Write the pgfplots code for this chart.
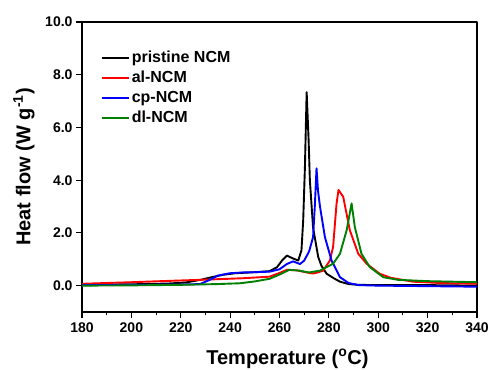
\documentclass[border=0pt]{standalone}
\usepackage{fontspec}
\setmainfont{Liberation Sans}
\usepackage{pgfplots}
\pgfplotsset{compat=1.18}
\definecolor{dgreen}{RGB}{0,128,0}
\begin{document}
\begin{tikzpicture}[line join=round]
\begin{axis}[
  scale only axis, width=395pt, height=290pt,
  xmin=180, xmax=340, ymin=-1, ymax=10,
  xtick={180,200,...,340}, minor x tick num=1,
  ytick={0,2,...,10},
  yticklabel style={/pgf/number format/.cd, fixed, fixed zerofill, precision=1},
  /pgf/number format/assume math mode=true,
  tick align=outside, xtick pos=bottom, ytick pos=left,
  major tick length=6pt, minor tick length=3pt,
  axis line style={line width=1.4pt},
  every tick/.style={line width=1.1pt, black},
  ticklabel style={font=\fontsize{14}{14}\selectfont\bfseries},
  xticklabel style={yshift=-1pt},
  label style={font=\fontsize{20}{20}\selectfont\bfseries},
  xlabel={Temperature (\textsuperscript{o}C)},
  ylabel={Heat flow (W g\textsuperscript{-1})},
  xlabel style={at={(axis description cs:0.52,-0.162)}, anchor=center},
  ylabel style={at={(axis description cs:-0.147,0.5)}, anchor=center},
  legend style={draw=none, fill=none, at={(axis description cs:0.045,0.91)}, anchor=north west,
    font=\fontsize{16}{16}\selectfont\bfseries, row sep=3pt, inner sep=1pt},
  legend cell align=left,
  legend image code/.code={\draw[#1, line width=1.8pt] (0pt,0pt) -- (27pt,0pt);},
]
\addplot[draw=black, line width=1.9pt] coordinates {
(180,0.03) (200,0.05) (215,0.08) (222,0.12) (228,0.22) (233,0.33) (237,0.41) (242,0.47)
(250,0.51) (256,0.55) (259,0.7) (261,0.95) (263,1.14) (265,1.05) (267.6,0.95) (268.9,1.34)
(269.6,2.48) (270.3,4.5) (271,7.34) (271.8,5.5) (272.3,4.0) (273.6,2.2) (275.7,1.08)
(277,0.75) (279.1,0.45) (282,0.28) (284.5,0.15) (288,0.06) (292,0.03) (300,0.02) (320,0.02) (340,0.0)
};
\addlegendentry{pristine NCM}
\addplot[draw=red, line width=1.9pt] coordinates {
(180,0.07) (200,0.13) (215,0.18) (227.8,0.22) (245,0.28) (256,0.34) (260,0.48) (263,0.6)
(267,0.58) (271,0.5) (273.6,0.46) (275.5,0.5) (277.7,0.57) (280.4,0.95) (281.7,1.46)
(283.1,3.1) (283.9,3.63) (285.8,3.37) (288.5,2.1) (291.9,1.21) (295.3,0.83) (300.6,0.45)
(305,0.3) (314,0.15) (325,0.1) (340,0.07)
};
\addlegendentry{al-NCM}
\addplot[draw=blue, line width=1.9pt] coordinates {
(180,0.02) (200,0.03) (220,0.04) (227.8,0.06) (231.8,0.22) (235,0.38) (239.9,0.47) (245,0.5)
(250,0.51) (256,0.53) (260,0.62) (263,0.82) (265.5,0.92) (268.3,0.82) (270,0.95) (272,1.3)
(273.6,1.84) (274.3,3.0) (275,4.45) (275.6,3.6) (276.4,3.0) (278.4,1.84) (281.1,0.95)
(284.5,0.32) (288,0.1) (292,0.02) (300,0.0) (320,-0.02) (340,-0.04)
};
\addlegendentry{cp-NCM}
\addplot[draw=dgreen, line width=1.9pt] coordinates {
(180,0.0) (200,0.01) (220,0.03) (235,0.06) (244,0.09) (250,0.16) (256,0.26) (260,0.42)
(264,0.6) (268,0.57) (272,0.5) (276.4,0.57) (279,0.7) (281.7,0.83) (284.5,1.21) (287.2,2.1)
(289.2,3.12) (290.5,2.23) (293.2,1.21) (296.6,0.7) (302,0.32) (308,0.22) (320,0.17) (330,0.15) (340,0.13)
};
\addlegendentry{dl-NCM}
\end{axis}
\pgfresetboundingbox
\path ([xshift=-82pt,yshift=-58pt]current axis.south west) rectangle ([xshift=14pt,yshift=22pt]current axis.north east);
\end{tikzpicture}
\end{document}
